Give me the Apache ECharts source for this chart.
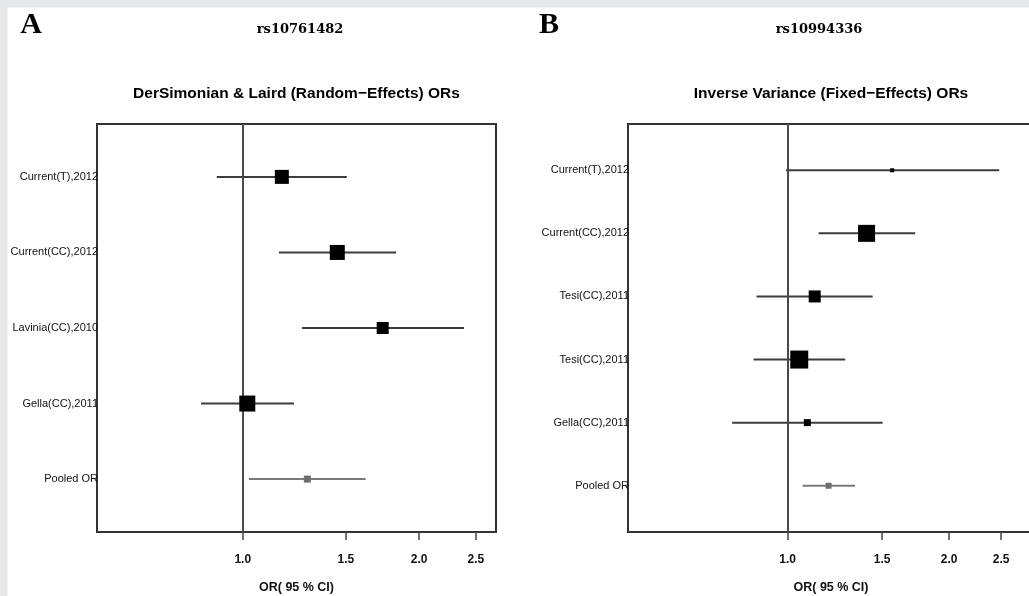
<!DOCTYPE html>
<html>
<head>
<meta charset="utf-8">
<script src="https://cdn.jsdelivr.net/npm/echarts@6/dist/echarts.min.js"></script>
<style>
html,body{margin:0;padding:0;background:#fff;overflow:hidden;}
#chart{width:1040px;height:596px;}
</style>
</head>
<body>
<div id="chart"></div>
<script>
// ---- Data (odds ratios with 95% CI) ----
const labelsA = ["Current(T),2012", "Current(CC),2012", "Lavinia(CC),2010", "Gella(CC),2011", "Pooled OR"];
const orA     = [1.166, 1.450, 1.733, 1.018, 1.289];
const loA     = [0.903, 1.153, 1.262, 0.849, 1.025];
const hiA     = [1.505, 1.827, 2.386, 1.223, 1.621];
const weightA = [14, 15, 12, 16, 7];

const labelsB = ["Current(T),2012", "Current(CC),2012", "Tesi(CC),2011", "Tesi(CC),2011", "Gella(CC),2011", "Pooled OR"];
const orB     = [1.566, 1.403, 1.123, 1.051, 1.088, 1.192];
const loB     = [0.993, 1.142, 0.875, 0.864, 0.788, 1.066];
const hiB     = [2.479, 1.729, 1.440, 1.280, 1.503, 1.335];
const weightB = [4, 17, 12, 18, 7, 6];

const xTicks  = [1.0, 1.5, 2.0, 2.5];
const xRangeA = [0.564, 2.705];
const xRangeB = [0.504, 2.878];

const titleA = "DerSimonian & Laird (Random\u2212Effects) ORs";
const titleB = "Inverse Variance (Fixed\u2212Effects) ORs";
const snpA = "rs10761482";
const snpB = "rs10994336";
const xName = "OR( 95 % CI)";

// ---- Build ----
const ln = Math.log;
const chart = echarts.init(document.getElementById('chart'), null, {renderer: 'canvas'});
const sans = '"Liberation Sans", Arial, sans-serif';
const serif = '"Liberation Serif", "DejaVu Serif", serif';
const wideSerif = '"DejaVu Serif", serif';

function xAxisFor(idx, range) {
  return {
    type: 'value', gridIndex: idx,
    min: ln(range[0]), max: ln(range[1]),
    splitLine: {show: false},
    axisLine: {show: true, onZero: false, lineStyle: {color: '#333', width: 2}},
    axisTick: {show: true, customValues: xTicks.map(ln), length: 8, lineStyle: {color: '#444', width: 1.5}},
    axisLabel: {show: true, customValues: xTicks.map(ln), margin: 22,
      formatter: v => Math.exp(v).toFixed(1),
      fontFamily: sans, fontSize: 12, fontWeight: 'bold', color: '#111'},
    name: xName, nameLocation: 'middle', nameGap: 49,
    nameTextStyle: {fontFamily: sans, fontSize: 12.5, fontWeight: 'bold', color: '#111'}
  };
}
function yAxisFor(idx, labels, pad) {
  const n = labels.length;
  return {
    type: 'value', gridIndex: idx, inverse: true,
    min: -pad, max: n - 1 + pad,
    splitLine: {show: false},
    axisLine: {show: true, onZero: false, lineStyle: {color: '#333', width: 2}},
    axisTick: {show: false},
    axisLabel: {show: true, customValues: labels.map((_, i) => i), margin: -1,
      formatter: v => labels[Math.round(v)],
      fontFamily: sans, fontSize: 11, color: '#111'}
  };
}
function seriesFor(idx, labels, ors, los, his, weights) {
  const pooledIdx = labels.indexOf("Pooled OR");
  const ciData = labels.map((_, i) => [ln(los[i]), ln(his[i]), i, i === pooledIdx ? 1 : 0]);
  const ptData = labels.map((_, i) => ({
    value: [ln(ors[i]), i, weights[i]],
    itemStyle: {color: i === pooledIdx ? '#6e6e6e' : '#000', opacity: 1}
  }));
  return [
    {
      type: 'custom', xAxisIndex: idx, yAxisIndex: idx, z: 3,
      encode: {x: [0, 1], y: 2},
      data: ciData,
      renderItem: (params, api) => {
        const a = api.coord([api.value(0), api.value(2)]);
        const b = api.coord([api.value(1), api.value(2)]);
        return {type: 'line', shape: {x1: a[0], y1: a[1], x2: b[0], y2: b[1]},
          style: {stroke: api.value(3) ? '#7a7a7a' : '#3c3c3c', lineWidth: 2}};
      },
      silent: true
    },
    {
      type: 'scatter', xAxisIndex: idx, yAxisIndex: idx, z: 5,
      symbol: 'rect', symbolSize: d => d[2],
      data: ptData, silent: true,
      markLine: {
        silent: true, symbol: 'none', label: {show: false},
        lineStyle: {color: '#4a4a4a', width: 2, type: 'solid'},
        data: [{xAxis: 0}]
      }
    }
  ];
}

const option = {
  animation: false,
  backgroundColor: '#fff',
  grid: [
    {left: 97, top: 124, width: 399, height: 408, show: true, borderColor: '#333', borderWidth: 2, backgroundColor: '#fff', containLabel: false, outerBoundsMode: 'none'},
    {left: 628, top: 124, width: 406, height: 408, show: true, borderColor: '#333', borderWidth: 2, backgroundColor: '#fff', containLabel: false, outerBoundsMode: 'none'}
  ],
  xAxis: [xAxisFor(0, xRangeA), xAxisFor(1, xRangeB)],
  yAxis: [yAxisFor(0, labelsA, 0.7), yAxisFor(1, labelsB, 0.733)],
  series: [].concat(
    seriesFor(0, labelsA, orA, loA, hiA, weightA),
    seriesFor(1, labelsB, orB, loB, hiB, weightB)
  ),
  graphic: [
    {type: 'rect', shape: {x: 0, y: 0, width: 1040, height: 7.5}, style: {fill: '#e6e7e9'}, silent: true},
    {type: 'rect', shape: {x: 0, y: 0, width: 7.5, height: 596}, style: {fill: '#e6e7e9'}, silent: true},
    {type: 'text', x: 31, y: 25, style: {text: 'A', font: 'bold 30px ' + serif, fill: '#000', textAlign: 'center', textVerticalAlign: 'middle'}},
    {type: 'text', x: 549, y: 25, style: {text: 'B', font: 'bold 30px ' + serif, fill: '#000', textAlign: 'center', textVerticalAlign: 'middle'}},
    {type: 'text', x: 300, y: 30, style: {text: snpA, font: 'bold 13px ' + wideSerif, fill: '#000', textAlign: 'center', textVerticalAlign: 'middle'}},
    {type: 'text', x: 819, y: 30, style: {text: snpB, font: 'bold 13px ' + wideSerif, fill: '#000', textAlign: 'center', textVerticalAlign: 'middle'}},
    {type: 'text', x: 296.5, y: 94, style: {text: titleA, font: 'bold 15.5px ' + sans, fill: '#000', textAlign: 'center', textVerticalAlign: 'middle'}},
    {type: 'text', x: 831, y: 94, style: {text: titleB, font: 'bold 15.5px ' + sans, fill: '#000', textAlign: 'center', textVerticalAlign: 'middle'}}
  ]
};
chart.setOption(option);
</script>
</body>
</html>
